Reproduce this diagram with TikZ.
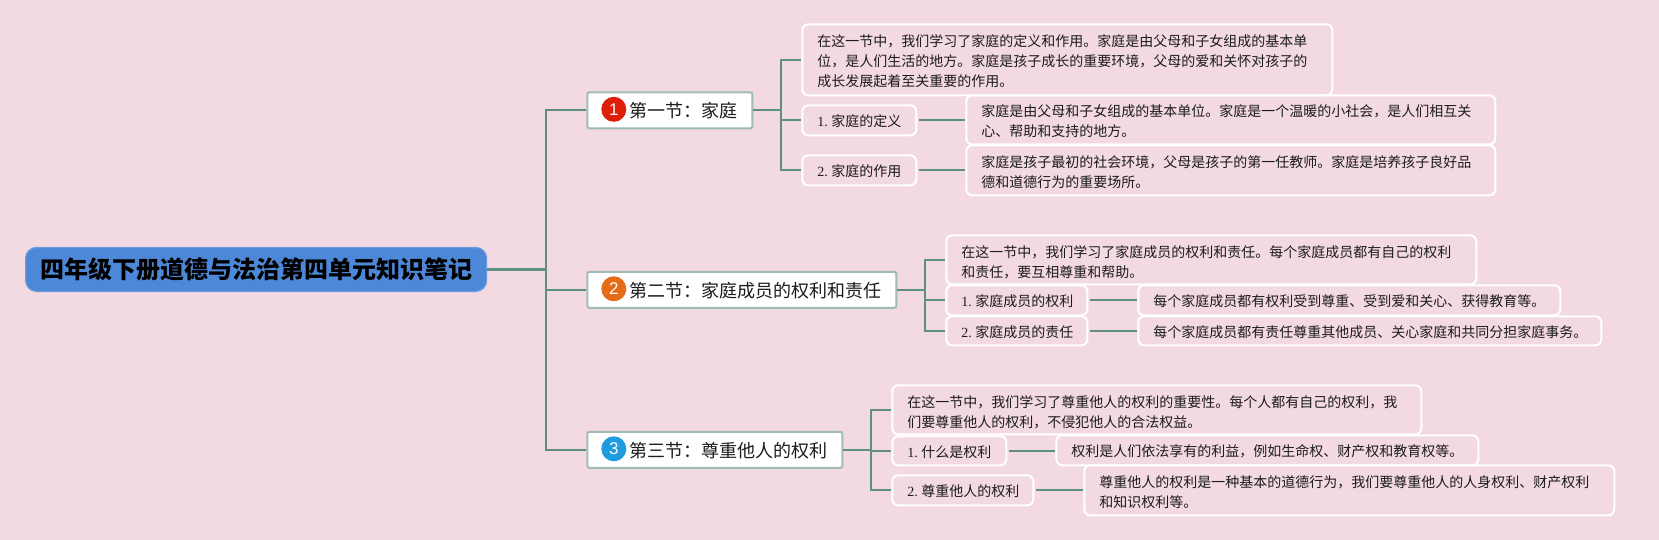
\documentclass[tikz,border=0pt]{standalone}
\usepackage{fontspec}
\setmainfont{Liberation Serif}
\newfontfamily\cjk{Noto Sans CJK SC}
\newfontfamily\badgefont{Liberation Sans}
\definecolor{bgc}{HTML}{F3D9E1}
\definecolor{linkc}{HTML}{5F8F7E}
\definecolor{mainb}{HTML}{9FBBB3}
\definecolor{rootc}{HTML}{4D88D8}
\definecolor{rootb}{HTML}{6A9ADB}
\definecolor{txt}{HTML}{1C1C1C}
\definecolor{redb}{HTML}{E01F0B}
\definecolor{orangeb}{HTML}{E46C18}
\definecolor{blueb}{HTML}{1F9BE0}
\tikzset{
  rootbox/.style={draw=rootb,fill=rootc,line width=1.2pt,rounded corners=11pt,anchor=north west,inner sep=0pt,minimum width=461pt,minimum height=44pt,font=\fontsize{24}{28}\selectfont\cjk\bfseries,text=black},
  mainbox/.style={draw=mainb,fill=white,line width=2pt,rounded corners=2pt,anchor=north west,inner sep=0pt,minimum height=36pt},
  notebox/.style={draw=white,line width=2pt,rounded corners=6pt,anchor=north west,inner ysep=0pt,inner xsep=15pt,align=left,font=\fontsize{14}{20}\selectfont\cjk,text=txt},
  maintext/.style={anchor=west,inner sep=0pt,font=\fontsize{18}{22}\selectfont\cjk,text=txt},
  link/.style={draw=linkc,line width=2.2pt},
  subl/.style={link,shorten <=1.5pt},
  badge/.style={circle,inner sep=0pt,minimum size=25pt,text=white,font=\fontsize{17}{20}\selectfont\badgefont}
}
\newcommand{\sublab}[2]{{\rmfamily #1.}\hspace{3.5pt}{\cjk #2}}
\newcommand{\nbcore}[7]{\node[notebox,text width=#4-30pt,minimum height=#5] (#6) at (#2,#3) {\raisebox{#1}[\height][\depth]{\begin{tabular}{@{}l@{}}#7\end{tabular}}};}
\newcommand{\nb}{\nbcore{-2.2pt}}
\newcommand{\nbm}{\nbcore{-3.2pt}}
\begin{document}
\begin{tikzpicture}[x=1pt,y=-1pt]
\useasboundingbox[fill=bgc] (0,0) rectangle (1659,540);
\begin{scope}[shift={(-0.7,-0.7)}]
\node[rootbox] (root) at (25.7,247.5) {四年级下册道德与法治第四单元知识笔记};
\node[mainbox,minimum width=165pt] (m1) at (587,92) {};
\node[mainbox,minimum width=309pt] (m2) at (587,271.5) {};
\node[mainbox,minimum width=255pt] (m3) at (587,431.5) {};
\node[badge,fill=redb] (b1) at (614.5,110) {1};
\node[badge,fill=orangeb] (b2) at (614.5,289.5) {2};
\node[badge,fill=blueb] (b3) at (614.5,449.5) {3};
\node[maintext] (t1) at (630,111.5) {第一节：家庭};
\node[maintext] (t2) at (630,291) {第二节：家庭成员的权利和责任};
\node[maintext] (t3) at (630,451) {第三节：尊重他人的权利};
% section 1
\nbm{802}{24}{530pt}{71pt}{a0}{在这一节中，我们学习了家庭的定义和作用。家庭是由父母和子女组成的基本单\\位，是人们生活的地方。家庭是孩子成长的重要环境，父母的爱和关怀对孩子的\\成长发展起着至关重要的作用。}
\nb{802}{105}{114pt}{30pt}{a1}{\sublab{1}{家庭的定义}}
\nb{802}{155}{114pt}{30pt}{a2}{\sublab{2}{家庭的作用}}
\nbm{966}{95}{529pt}{49pt}{a1d}{家庭是由父母和子女组成的基本单位。家庭是一个温暖的小社会，是人们相互关\\心、帮助和支持的地方。}
\nbm{966}{145}{529pt}{50pt}{a2d}{家庭是孩子最初的社会环境，父母是孩子的第一任教师。家庭是培养孩子良好品\\德和道德行为的重要场所。}
% section 2
\nbm{946}{235}{530pt}{49pt}{c0}{在这一节中，我们学习了家庭成员的权利和责任。每个家庭成员都有自己的权利\\和责任，要互相尊重和帮助。}
\nb{946}{285}{141pt}{30pt}{c1}{\sublab{1}{家庭成员的权利}}
\nb{946}{316}{141pt}{29pt}{c2}{\sublab{2}{家庭成员的责任}}
\nb{1138}{285}{422pt}{30pt}{c1d}{每个家庭成员都有权利受到尊重、受到爱和关心、获得教育等。}
\nb{1138}{316}{463pt}{29pt}{c2d}{每个家庭成员都有责任尊重其他成员、关心家庭和共同分担家庭事务。}
% section 3
\nbm{892}{385}{529pt}{49pt}{d0}{在这一节中，我们学习了尊重他人的权利的重要性。每个人都有自己的权利，我\\们要尊重他人的权利，不侵犯他人的合法权益。}
\nb{892}{436}{114pt}{29pt}{d1}{\sublab{1}{什么是权利}}
\nb{892}{475}{141pt}{30pt}{d2}{\sublab{2}{尊重他人的权利}}
\nb{1056}{435}{422pt}{30pt}{d1d}{权利是人们依法享有的利益，例如生命权、财产权和教育权等。}
\nbm{1084}{465}{530pt}{50pt}{d2d}{尊重他人的权利是一种基本的道德行为，我们要尊重他人的人身权利、财产权利\\和知识权利等。}
% trunks
\coordinate (x0) at (547,0);
\coordinate (xa) at (782,0);
\coordinate (xc) at (926,0);
\coordinate (xd) at (872,0);
\coordinate (t0) at (root.east -| x0);
\coordinate (ta) at (m1.east -| xa);
\coordinate (tc) at (m2.east -| xc);
\coordinate (td) at (m3.east -| xd);
\draw[link] (root.east) -- (t0);
\draw[link] (t0) |- (m1.west);
\draw[link] (t0) |- (m2.west);
\draw[link] (t0) |- (m3.west);
\draw[link] (m1.east) -- (ta);
\draw[link] (ta) |- (a0.west);
\draw[link] (ta) |- (a1.west);
\draw[link] (ta) |- (a2.west);
\draw[link] (m2.east) -- (tc);
\draw[link] (tc) |- (c0.west);
\draw[link] (tc) |- (c1.west);
\draw[link] (tc) |- (c2.west);
\draw[link] (m3.east) -- (td);
\draw[link] (td) |- (d0.west);
\draw[link] (td) |- (d1.west);
\draw[link] (td) |- (d2.west);
\draw[subl] (a1.east) -- (a1.east -| a1d.west);
\draw[subl] (a2.east) -- (a2.east -| a2d.west);
\draw[subl] (c1.east) -- (c1.east -| c1d.west);
\draw[subl] (c2.east) -- (c2.east -| c2d.west);
\draw[subl] (d1.east) -- (d1.east -| d1d.west);
\draw[subl] (d2.east) -- (d2.east -| d2d.west);
\end{scope}
\end{tikzpicture}
\end{document}
